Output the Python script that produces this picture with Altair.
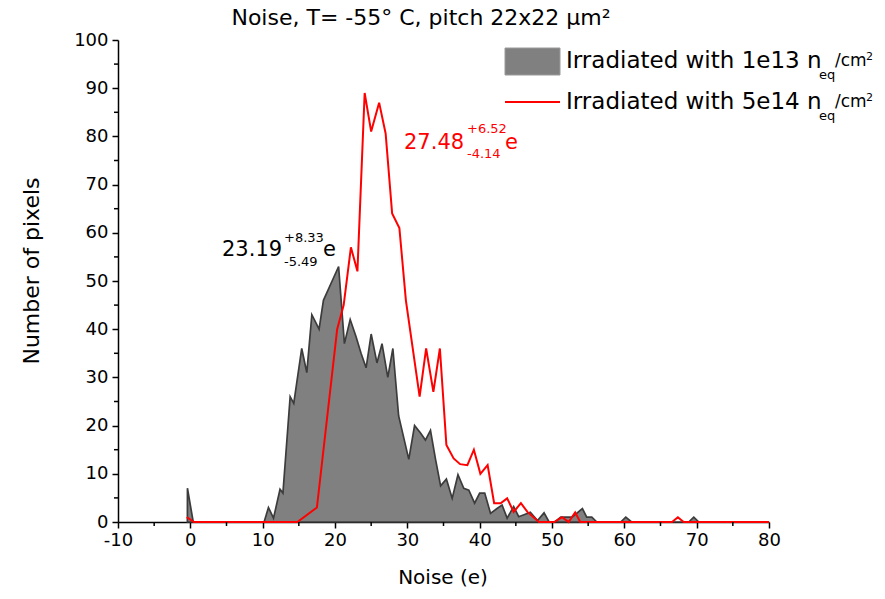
import altair as alt
import pandas as pd

FONT = "DejaVu Sans"

# Irradiated with 1e13 neq/cm2 (grey histogram)
grey_x = [-0.41, -0.4, 0.4, 10.2, 10.8, 11.5, 12.4, 12.8, 13.8, 14.3, 15.4, 16.1, 16.8, 17.8, 18.4,
          19.6, 20.5, 21.3, 22.1, 22.9, 23.6, 24.3, 25.0, 25.8, 26.5, 27.3, 28.0, 28.8, 29.5,
          30.2, 31.0, 31.8, 32.5, 33.2, 33.9, 34.6, 35.4, 36.2, 37.0, 37.8, 38.5, 39.3, 40.0,
          40.7, 41.5, 42.4, 43.1, 43.8, 44.7, 45.4, 46.3, 47.0, 48.0, 48.9, 49.6, 50.4, 51.2,
          52.8, 54.2, 54.8, 55.5, 56.2, 59.5, 60.2, 61.0, 68.9, 69.6, 70.3, 80.0]
grey_y = [0, 7, 0, 0, 3, 0.8, 6.8, 6, 26, 24.6, 36, 31, 43, 40, 46,
          50, 53, 37, 42, 38.5, 35, 32, 39, 33, 37, 30, 36, 22, 17.5,
          13, 20, 18.5, 17, 19, 13, 7.5, 8.9, 4.9, 9.8, 7, 6.6, 3.9, 6,
          6, 1.8, 2.8, 3.5, 0.8, 3.2, 1.1, 1.6, 2.0, 0.3, 1.9, 0, 0, 1,
          1, 2.8, 1, 1, 0, 0, 1, 0, 0, 1, 0, 0]

# Irradiated with 5e14 neq/cm2 (red line)
red_x = [-0.5, 0.5, 14.8, 17.5, 20.3, 21.2, 22.2, 23.1, 24.1, 25.0, 26.1, 27.0, 27.9, 28.9,
         29.8, 31.7, 32.6, 33.6, 34.5, 35.4, 36.4, 37.3, 38.3, 39.2, 40.1, 41.1, 42.0, 42.9,
         43.8, 44.7, 45.7, 46.6, 48.2, 50.3, 51.4, 52.3, 53.2, 53.9, 66.6, 67.4, 68.2, 80.0]
red_y = [1, 0, 0, 3, 40, 45, 57, 52, 89, 81, 87, 80.6, 64, 61,
         46, 26, 36, 27, 36, 16, 13.2, 12, 11.8, 15, 10, 11.8, 3.9, 3.9,
         4.9, 2.1, 3.9, 2.1, 0, 0, 1, 0, 2, 0, 0, 1, 0, 0]

x_major = list(range(-10, 81, 10))
x_minor = list(range(-5, 80, 10))
y_major = list(range(0, 101, 10))
y_minor = list(range(5, 100, 10))

W, H = 651, 482

grey_df = pd.DataFrame({"noise": grey_x, "pixels": grey_y})
red_df = pd.DataFrame({"noise": red_x, "pixels": red_y, "order": range(len(red_x))})
xmin_df = pd.DataFrame({"noise": x_minor})
ymin_df = pd.DataFrame({"pixels": y_minor})
one = pd.DataFrame({"a": [0]})

xscale = alt.Scale(domain=[-10, 80], nice=False, zero=False)
yscale = alt.Scale(domain=[0, 100], nice=False, zero=False)

common_axis = dict(title=None, grid=False, tickSize=6, tickWidth=1.5, tickColor="black",
                   domainColor="black", domainWidth=1.5, labelColor="black",
                   labelFont=FONT, labelFontSize=18, labelExpr="toString(datum.value)")
x_axis = alt.Axis(values=x_major, labelPadding=3, labelFlush=False, **common_axis)
y_axis = alt.Axis(values=y_major, labelPadding=4, **common_axis)

X = alt.X("noise:Q", scale=xscale, axis=x_axis)
Y = alt.Y("pixels:Q", scale=yscale, axis=y_axis, stack=None)

grey = alt.Chart(grey_df).mark_area(
    color="#808080", fillOpacity=1, stroke="#3c3c3c", strokeWidth=1.7, interpolate="linear"
).encode(x=X, y=Y)

red = alt.Chart(red_df).mark_line(color="#ff0000", strokeWidth=2, interpolate="linear").encode(
    x=X, y=Y, order="order:Q")

xminor = alt.Chart(xmin_df).mark_rule(color="black", strokeWidth=1.5).encode(
    x=X, y=alt.value(H), y2=alt.value(H + 4))
yminor = alt.Chart(ymin_df).mark_rule(color="black", strokeWidth=1.5).encode(
    y=Y, x=alt.value(0), x2=alt.value(-4))


def txt(s, x, y, size, color="black", align="left", angle=0, baseline="middle"):
    return alt.Chart(one).mark_text(
        text=s, font=FONT, fontSize=size, color=color, align=align, baseline=baseline, angle=angle
    ).encode(x=alt.value(x), y=alt.value(y))


layers = [grey, red, xminor, yminor]

# title and axis titles
layers.append(txt("Noise, T= -55° C, pitch 22x22 μm²", 303, -15, 22, align="center",
                  baseline="alphabetic"))
layers.append(txt("Number of pixels", -86, 231, 22, align="center", angle=270))
layers.append(txt("Noise (e)", 325, 538, 20, align="center"))

# legend
legend_box = alt.Chart(one).mark_rect(color="#808080", stroke="#9a9a9a", strokeWidth=1).encode(
    x=alt.value(387), x2=alt.value(442), y=alt.value(8), y2=alt.value(35))
legend_line = alt.Chart(one).mark_rule(color="#ff0000", strokeWidth=2).encode(
    x=alt.value(387), x2=alt.value(442), y=alt.value(62))
layers += [legend_box, legend_line]
for yy, label in [(21, "Irradiated with 1e13 n"), (62, "Irradiated with 5e14 n")]:
    layers.append(txt(label, 448, yy, 23))
    layers.append(txt("eq", 701, yy + 14, 13))
    layers.append(txt("/cm", 717, yy, 17))
    layers.append(txt("2", 748, yy - 4, 11))

# annotations
layers.append(txt("23.19", 104, 210, 21))
layers.append(txt("+8.33", 166, 198, 13))
layers.append(txt("-5.49", 166, 222, 13))
layers.append(txt("e", 205, 210, 21))
layers.append(txt("27.48", 286, 103, 21, color="#ff0000"))
layers.append(txt("+6.52", 349, 89, 13, color="#ff0000"))
layers.append(txt("-4.14", 349, 114, 13, color="#ff0000"))
layers.append(txt("e", 387, 103, 21, color="#ff0000"))

chart = alt.layer(*layers).properties(
    width=W, height=H,
    autosize=alt.AutoSizeParams(type="none"),
    padding={"left": 110, "top": 32, "right": 108, "bottom": 68},
).configure_view(stroke=None)

chart.save("out.html", embed_options={"renderer": "svg", "actions": False})
